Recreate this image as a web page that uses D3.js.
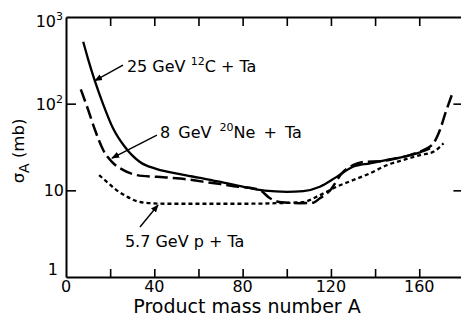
<!DOCTYPE html>
<html>
<head>
<meta charset="utf-8">
<script src="https://cdn.jsdelivr.net/npm/d3@7"></script>
<style>
  html, body { margin: 0; padding: 0; background: #fff; }
  svg { display: block; font-family: "DejaVu Sans", sans-serif; }
</style>
</head>
<body>
<svg id="chart" width="461" height="322"></svg>
<script>
// ---- data ----
const massC  = [7.8, 10, 13.1, 16.8, 21.3, 26.7, 33.5, 41.2, 51.6, 60, 70, 80, 90, 100, 107.5, 115, 122.6, 130, 137.7, 145.3, 152.7, 158.9, 164.9];
const sigmaC = [518, 327, 182, 99, 52, 31.6, 21.2, 17.6, 15.4, 14, 12.5, 11, 9.9, 9.6, 9.8, 11, 14.3, 18.7, 20.5, 22.4, 24.4, 26.7, 30.5];

const massNe  = [6.7, 10.1, 13.1, 16.9, 20.7, 26, 32, 41, 51.6, 62, 70, 78, 85, 88, 92.4, 96, 100, 106, 112, 115, 119.6, 124.9, 130, 136, 142, 149.8, 155.8, 161.9, 166.4, 169.4, 172, 174.7];
const sigmaNe = [146, 84, 50, 29, 21.4, 17.1, 15, 14.3, 13.7, 12.6, 11.8, 11, 10.5, 10, 8.1, 7.4, 7.2, 7.1, 7.2, 8.1, 10, 15.7, 19.5, 21.4, 21.6, 23.4, 25.5, 29.2, 34.8, 50, 80, 125];

const massP  = [15, 19, 23, 27.5, 32, 38, 45, 60, 80, 95, 107, 115, 122.6, 130, 137.7, 145.3, 152.8, 160.4, 166.4, 171];
const sigmaP = [15, 12.2, 10, 8.5, 7.5, 7.1, 7.0, 7.0, 7.0, 7.1, 7.3, 8.8, 11, 13.1, 15.7, 19.5, 22.4, 25.5, 27.9, 34.8];

const xTickLabels = [0, 40, 80, 120, 160];
const xMinorTicks = [20, 40, 60, 80, 100, 120, 140, 160];
const yTicks = [1, 10, 100, 1000];

// annotation anchors in data units: [label A, label sigma, tail A, tail sigma, tip A, tip sigma]
const annC  = [27.6, 231, 25.8, 279, 13.1, 184];
const annNe = [42.6, 40.1, 41.2, 43.4, 20.8, 23.6];
const annP  = [26.7, 2.22, 33.5, 3.77, 41.7, 6.77];

// ---- layout ----
const svg = d3.select("#chart");
const x = d3.scaleLinear().domain([0, 180]).range([66, 463.4]);
const y = d3.scaleLog().domain([1, 1000]).range([277, 17]);

// defs: arrowhead
svg.append("defs").append("marker")
  .attr("id", "arr").attr("viewBox", "0 0 10 10").attr("refX", 9).attr("refY", 5)
  .attr("markerWidth", 8).attr("markerHeight", 8).attr("markerUnits", "userSpaceOnUse")
  .attr("orient", "auto")
  .append("path").attr("d", "M0,1 L10,5 L0,9 Z").attr("fill", "#000");

// frame via axes
const gB = svg.append("g").attr("transform", `translate(0,${y(1)})`)
  .call(d3.axisBottom(x).tickValues(xMinorTicks).tickSize(-8).tickSizeOuter(0).tickFormat(""));
const gT = svg.append("g").attr("transform", `translate(0,${y(1000)})`)
  .call(d3.axisTop(x).tickValues(xMinorTicks).tickSize(-9).tickSizeOuter(0).tickFormat(""));
const gL = svg.append("g").attr("transform", `translate(${x(0)},0)`)
  .call(d3.axisLeft(y).tickValues([10, 100]).tickSize(-10).tickSizeOuter(0).tickFormat(""));
const gR = svg.append("g").attr("transform", `translate(${x(180)},0)`)
  .call(d3.axisRight(y).tickValues([10, 100]).tickSize(-10).tickSizeOuter(0).tickFormat(""));
[gB, gT, gL, gR].forEach(g => {
  g.select(".domain").attr("stroke", "#000").attr("stroke-width", 2);
  g.selectAll(".tick line").attr("stroke", "#000").attr("stroke-width", 1.6);
});

// x tick labels
svg.append("g").selectAll("text").data(xTickLabels).join("text")
  .attr("x", d => x(d)).attr("y", 292)
  .attr("text-anchor", "middle").attr("font-size", 16).text(d => d);

// y tick labels
const yl = svg.append("g");
yTicks.forEach(v => {
  const e = Math.round(Math.log10(v));
  const t = yl.append("text").attr("text-anchor", "end").attr("font-size", 16);
  if (v === 1) {
    t.attr("x", 58).attr("y", y(v) - 2).text("1");
  } else if (v === 10) {
    t.attr("x", 64).attr("y", y(v) + 6).text("10");
  } else {
    t.attr("x", 63).attr("y", y(v) + (v === 1000 ? 10 : 6));
    t.append("tspan").text("10");
    t.append("tspan").attr("dy", -7).attr("font-size", 11).text(e);
  }
});

// axis titles
svg.append("text").attr("x", 247).attr("y", 313).attr("text-anchor", "middle")
  .attr("font-size", 19).text("Product mass number A");
const yt = svg.append("text").attr("transform", "translate(24,151) rotate(-90)")
  .attr("text-anchor", "middle").attr("font-size", 16.5);
yt.append("tspan").text("σ");
yt.append("tspan").attr("dy", 5).attr("font-size", 14).text("A");
yt.append("tspan").attr("dy", -5).text(" (mb)");

// curves
const line = d3.line().x(d => x(d[0])).y(d => y(d[1])).curve(d3.curveMonotoneX);
const series = [
  {m: massC, s: sigmaC, dash: null, w: 2.3},
  {m: massNe, s: sigmaNe, dash: "13,5", w: 2.5},
  {m: massP, s: sigmaP, dash: "4,3", w: 2.3}
];
series.forEach(sr => {
  svg.append("path").datum(d3.zip(sr.m, sr.s))
    .attr("fill", "none").attr("stroke", "#000").attr("stroke-width", sr.w)
    .attr("stroke-dasharray", sr.dash).attr("d", line);
});

// annotations
function annotate(a, parts, ws) {
  svg.append("line")
    .attr("x1", x(a[2])).attr("y1", y(a[3])).attr("x2", x(a[4])).attr("y2", y(a[5]))
    .attr("stroke", "#000").attr("stroke-width", 1.4).attr("marker-end", "url(#arr)");
  const t = svg.append("text").attr("x", x(a[0])).attr("y", y(a[1])).attr("font-size", 16)
    .attr("word-spacing", ws || 0);
  parts.forEach(p => {
    const ts = t.append("tspan").text(p.t);
    if (p.sup) ts.attr("dy", -7).attr("font-size", 11);
    if (p.after) ts.attr("dy", 7);
  });
}
annotate(annC, [{t: "25 GeV "}, {t: "12", sup: true}, {t: "C + Ta", after: true}], 0);
annotate(annNe, [{t: "8 GeV "}, {t: "20", sup: true}, {t: "Ne + Ta", after: true}], 3);
annotate(annP, [{t: "5.7 GeV p + Ta"}], 0);
</script>
</body>
</html>
